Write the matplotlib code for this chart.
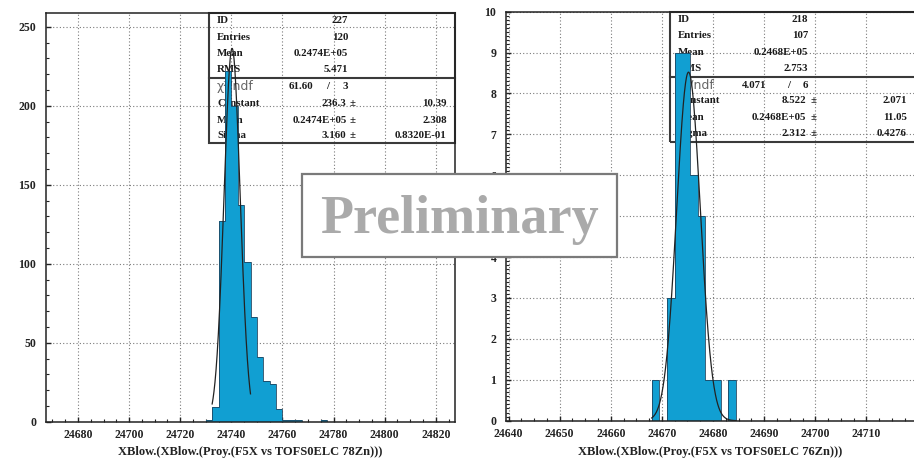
import numpy as np
import matplotlib
matplotlib.use("Agg")
import matplotlib.pyplot as plt
from matplotlib.patches import Rectangle
from matplotlib.lines import Line2D
from matplotlib.ticker import MultipleLocator

# ---------------- data ----------------
# Histogram 227 (78Zn)
h227_first_edge = 24730.0
h227_bin_width = 2.5
h227_counts = [1, 9, 127, 222, 200, 137, 101, 66, 41, 26, 24, 8, 1, 1, 1, 0, 0, 0, 1]
h227_fit_constant = 236.3
h227_fit_mean = 24740.3
h227_fit_sigma = 3.160
h227_fit_range = (24732.5, 24747.5)
h227_xlim = (24667.5, 24827.5)
h227_ylim = (0, 258.7)
h227_xticks = [24680, 24700, 24720, 24740, 24760, 24780, 24800, 24820]
h227_yticks = [0, 50, 100, 150, 200, 250]
h227_stats = [("ID", "227"), ("Entries", "120"), ("Mean", "0.2474E+05"), ("RMS", "5.471")]
h227_chi2 = ("61.60", "3")
h227_params = [("Constant", "236.3", "10.39"), ("Mean", "0.2474E+05", "2.308"),
               ("Sigma", "3.160", "0.8320E-01")]
h227_xlabel = "XBlow.(XBlow.(Proy.(F5X vs TOFS0ELC 78Zn)))"

# Histogram 218 (76Zn)
h218_first_edge = 24668.0
h218_bin_width = 1.5
h218_counts = [1, 0, 3, 9, 9, 6, 5, 1, 1, 0, 1]
h218_fit_constant = 8.522
h218_fit_mean = 24675.2
h218_fit_sigma = 2.312
h218_fit_range = (24668.0, 24684.5)
h218_xlim = (24639.5, 24719.5)
h218_ylim = (0, 10)
h218_xticks = [24640, 24650, 24660, 24670, 24680, 24690, 24700, 24710]
h218_yticks = list(range(0, 11))
h218_stats = [("ID", "218"), ("Entries", "107"), ("Mean", "0.2468E+05"), ("RMS", "2.753")]
h218_chi2 = ("4.071", "6")
h218_params = [("Constant", "8.522", "2.071"), ("Mean", "0.2468E+05", "11.05"),
               ("Sigma", "2.312", "0.4276")]
h218_xlabel = "XBlow.(XBlow.(Proy.(F5X vs TOFS0ELC 76Zn)))"

# ---------------- layout helpers ----------------
W, H = 914, 461
SERIF = "Liberation Serif"
BAR = "#119fd2"
INK = "#222222"


def fx(px):
    return px / W


def fy(py):
    return 1 - py / H


def rect(x0, top, x1, bottom):
    return [fx(x0), fy(bottom), (x1 - x0) / W, (bottom - top) / H]


fig = plt.figure(figsize=(W / 100, H / 100), dpi=100)
fig.patch.set_facecolor("white")


def draw_panel(pos, first_edge, width, counts, fit, xlim, ylim, xticks, yticks,
               xminor, yminor, xlabel, xlabel_px):
    ax = fig.add_axes(pos)
    counts = np.asarray(counts, dtype=float)
    edges = first_edge + width * np.arange(len(counts) + 1)
    ax.stairs(counts, edges, fill=True, color=BAR, zorder=2, linewidth=0)
    ax.stairs(counts, edges, fill=False, color="#1d4560", linewidth=0.6, zorder=2.1)

    const, mean, sigma, lo, hi = fit
    xs = np.linspace(lo, hi, 300)
    ax.plot(xs, const * np.exp(-0.5 * ((xs - mean) / sigma) ** 2),
            color=INK, lw=0.9, zorder=3)

    ax.set_xlim(*xlim)
    ax.set_ylim(*ylim)
    ax.set_xticks(xticks)
    ax.set_yticks(yticks)
    ax.xaxis.set_minor_locator(MultipleLocator(xminor))
    ax.yaxis.set_minor_locator(MultipleLocator(yminor))
    ax.grid(True, which="major", color="#7a7a7a", linestyle=(0, (1, 2)), linewidth=0.8, zorder=0)
    ax.set_axisbelow(True)
    ax.tick_params(which="major", direction="in", length=3.5, width=1.0, color=INK,
                   top=False, right=False)
    ax.tick_params(which="minor", direction="in", length=2.0, width=0.8, color=INK,
                   top=False, right=False)
    ax.tick_params(axis="x", which="major", pad=5)
    ax.tick_params(axis="y", which="major", pad=7)
    for lab in ax.get_xticklabels() + ax.get_yticklabels():
        lab.set_fontfamily(SERIF)
        lab.set_fontweight("bold")
        lab.set_fontsize(8.5)
        lab.set_color(INK)
    for sp in ax.spines.values():
        sp.set_color(INK)
        sp.set_linewidth(1.1)
    fig.text(fx(xlabel_px[0]), fy(xlabel_px[1]), xlabel, ha="center", va="center",
             fontfamily=SERIF, fontweight="bold", fontsize=9, color=INK)
    return ax


def stat_box(ax, x0, x1, top, mid, bottom, row_y, label_x, val_r, pm_x, err_r,
             chi_pos, stats, chi2, params):
    tf = fig.transFigure
    ax.add_patch(Rectangle((fx(x0), fy(bottom)), (x1 - x0) / W, (bottom - top) / H,
                           transform=tf, fill=False, edgecolor="#3a3a3a", lw=1.5,
                           zorder=1.5, clip_on=False))
    ax.add_line(Line2D([fx(x0), fx(x1)], [fy(mid), fy(mid)], transform=tf,
                       color="#3a3a3a", lw=1.5, zorder=1.5, clip_on=False))
    kw = dict(transform=tf, fontfamily=SERIF, fontweight="bold", fontsize=7.8,
              color="#1a1a1a", va="center", zorder=1.6, clip_on=False)
    for (name, val), y in zip(stats, row_y[:4]):
        ax.text(fx(label_x), fy(y), name, ha="left", **kw)
        ax.text(fx(val_r), fy(y), val, ha="right", **kw)
    y = row_y[4]
    ax.text(fx(label_x), fy(y), "χ²/ndf", ha="left", va="center", transform=tf,
            fontfamily="DejaVu Sans", fontsize=9, color="#666666", zorder=1.6,
            clip_on=False)
    ax.text(fx(chi_pos[0]), fy(y), chi2[0], ha="right", **kw)
    ax.text(fx(chi_pos[1]), fy(y), "/", ha="center", **kw)
    ax.text(fx(val_r), fy(y), chi2[1], ha="right", **kw)
    for (name, val, err), y in zip(params, row_y[5:]):
        ax.text(fx(label_x), fy(y), name, ha="left", **kw)
        ax.text(fx(val_r - 1.5), fy(y), val, ha="right", **kw)
        ax.text(fx(pm_x), fy(y), "±", ha="left", **kw)
        ax.text(fx(err_r), fy(y), err, ha="right", **kw)


# ---------------- left panel ----------------
axL = draw_panel(rect(46, 13, 455, 421.7), h227_first_edge, h227_bin_width, h227_counts,
                 (h227_fit_constant, h227_fit_mean, h227_fit_sigma, *h227_fit_range),
                 h227_xlim, h227_ylim, h227_xticks, h227_yticks, 5, 10,
                 h227_xlabel, (250.5, 451.5))
stat_box(axL, 209.3, 455, 13, 78.3, 143.3,
         [20.7, 37.5, 53.3, 69, 86.5, 103.5, 120, 136],
         217, 348, 350, 446.7, (313, 328), h227_stats, h227_chi2, h227_params)

# ---------------- right panel ----------------
axR = draw_panel(rect(506, 11.7, 915, 420.7), h218_first_edge, h218_bin_width, h218_counts,
                 (h218_fit_constant, h218_fit_mean, h218_fit_sigma, *h218_fit_range),
                 h218_xlim, h218_ylim, h218_xticks, h218_yticks, 2.5, 0.1,
                 h218_xlabel, (710.5, 451.5))
stat_box(axR, 670, 918, 11.7, 77.3, 141.7,
         [20, 36, 52.3, 68.3, 85, 100.7, 117.7, 134],
         678, 808, 811, 906.7, (766, 788.3), h218_stats, h218_chi2, h218_params)

# ---------------- overlay banner ----------------
fig.add_artist(Rectangle((fx(302), fy(257)), (617 - 302) / W, (257 - 173.5) / H,
                         transform=fig.transFigure, facecolor="white",
                         edgecolor="#7a7a7a", lw=1.6, zorder=10))
fig.text(fx(459), fy(233), "Preliminary", ha="center", va="baseline",
         fontfamily=SERIF, fontweight="bold", fontsize=39, color="#aaaaaa", zorder=11)

fig.savefig("out.png", dpi=100, facecolor="white")
